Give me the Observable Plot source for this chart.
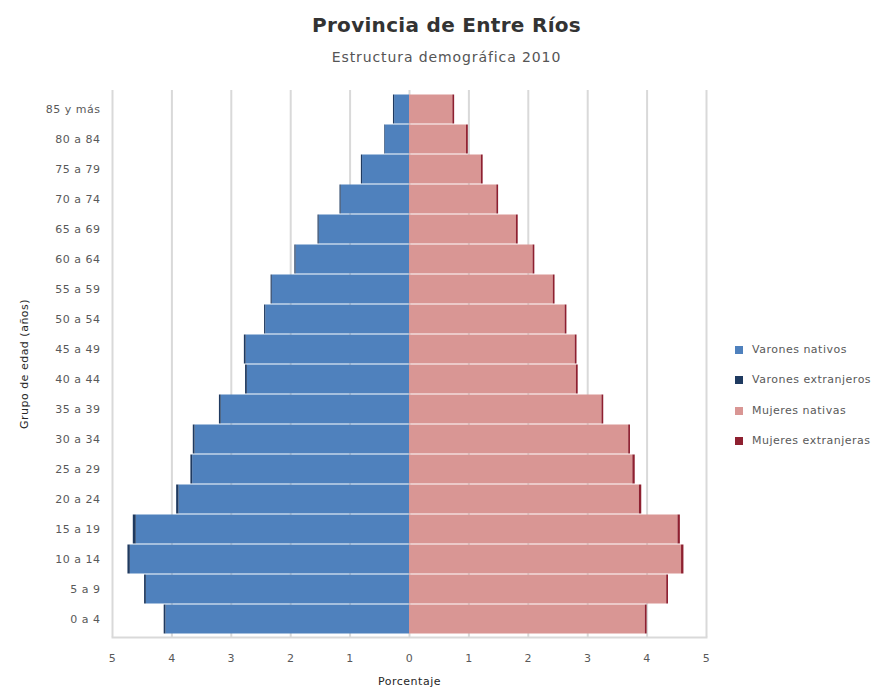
<!DOCTYPE html>
<html>
<head>
<meta charset="utf-8">
<script src="https://cdn.jsdelivr.net/npm/d3@7"></script>
<script src="https://cdn.jsdelivr.net/npm/@observablehq/plot@0.6"></script>
<style>
  body { margin: 0; background: #fff; font-family: "DejaVu Sans", sans-serif; }
  #wrap { position: relative; width: 893px; height: 690px; }
  #title { position: absolute; left: 0; width: 893px; top: 13px; text-align: center; font-size: 20px; font-weight: bold; color: #333; letter-spacing: 0.3px; }
  #subtitle { position: absolute; left: 0; width: 893px; top: 49px; text-align: center; font-size: 14px; color: #555; letter-spacing: 0.9px; }
  #chart { position: absolute; left: 0; top: 80px; }
  #legend { position: absolute; left: 735px; top: 343px; font-size: 11px; color: #595959; letter-spacing: 0.5px; }
  .item { height: 30.4px; display: flex; align-items: flex-start; white-space: nowrap; }
  .sw { width: 8px; height: 8px; margin-right: 9px; margin-top: 3px; }
  g[aria-label="x-axis label"], g[aria-label="y-axis label"] { fill: #262626; }
</style>
</head>
<body>
<div id="wrap">
  <div id="title">Provincia de Entre Ríos</div>
  <div id="subtitle">Estructura demográfica 2010</div>
  <div id="chart"></div>
  <div id="legend"></div>
</div>
<script>
const ageGroups = ["0 a 4", "5 a 9", "10 a 14", "15 a 19", "20 a 24", "25 a 29", "30 a 34", "35 a 39", "40 a 44", "45 a 49", "50 a 54", "55 a 59", "60 a 64", "65 a 69", "70 a 74", "75 a 79", "80 a 84", "85 y más"];
const varonesNativos = [4.10, 4.43, 4.70, 4.60, 3.88, 3.65, 3.61, 3.17, 2.73, 2.75, 2.42, 2.31, 1.91, 1.52, 1.15, 0.79, 0.41, 0.25];
const varonesExtranjeros = [0.03, 0.03, 0.04, 0.05, 0.04, 0.03, 0.03, 0.03, 0.03, 0.03, 0.02, 0.02, 0.02, 0.02, 0.02, 0.02, 0.01, 0.02];
const mujeresNativas = [3.97, 4.33, 4.58, 4.52, 3.87, 3.76, 3.69, 3.24, 2.81, 2.79, 2.62, 2.42, 2.08, 1.80, 1.47, 1.21, 0.96, 0.73];
const mujeresExtranjeras = [0.03, 0.03, 0.04, 0.04, 0.04, 0.04, 0.03, 0.03, 0.03, 0.03, 0.03, 0.03, 0.03, 0.03, 0.03, 0.03, 0.03, 0.03];
const series = ["Varones nativos", "Varones extranjeros", "Mujeres nativas", "Mujeres extranjeras"];
const colors = ["#4f81bd", "#1f3a60", "#d99694", "#8e2030"];
const xTicks = [-5, -4, -3, -2, -1, 0, 1, 2, 3, 4, 5];

const rows = [];
ageGroups.forEach((g, i) => {
  rows.push({edad: g, serie: series[0], v: -varonesNativos[i]});
  rows.push({edad: g, serie: series[1], v: -varonesExtranjeros[i]});
  rows.push({edad: g, serie: series[2], v: mujeresNativas[i]});
  rows.push({edad: g, serie: series[3], v: mujeresExtranjeras[i]});
});

const chart = Plot.plot({
  width: 893,
  height: 610,
  marginLeft: 112,
  marginRight: 187,
  marginTop: 10,
  marginBottom: 53,
  style: {fontFamily: "'DejaVu Sans', sans-serif", fontSize: "11px", color: "#595959", background: "#fff", letterSpacing: "0.5px"},
  x: {domain: [-5, 5], ticks: xTicks, tickFormat: d => Math.abs(d), tickSize: 0, tickPadding: 17, label: "Porcentaje", labelArrow: false, labelAnchor: "center", labelOffset: 47},
  y: {domain: ageGroups.slice().reverse(), padding: 0, tickSize: 0, tickPadding: 12, label: "Grupo de edad (años)", labelArrow: false, labelAnchor: "center", labelOffset: 92},
  color: {domain: series, range: colors},
  marks: [
    Plot.gridX(xTicks, {stroke: "#d9d9d9", strokeWidth: 2, strokeOpacity: 1}),
    Plot.barX(rows, Plot.stackX({x: "v", y: "edad", fill: "serie", insetTop: 0.5, insetBottom: 0.5})),
    Plot.frame({anchor: "bottom", stroke: "#d9d9d9", strokeWidth: 2})
  ]
});
chart.querySelectorAll("text").forEach(t => {
  if (t.textContent.includes("→")) t.textContent = t.textContent.replace(/\s*→\s*/g, "");
});
document.getElementById("chart").appendChild(chart);

const legend = document.getElementById("legend");
series.forEach((s, i) => {
  const it = document.createElement("div");
  it.className = "item";
  it.innerHTML = `<div class="sw" style="background:${colors[i]}"></div><span>${s}</span>`;
  legend.appendChild(it);
});
</script>
</body>
</html>
